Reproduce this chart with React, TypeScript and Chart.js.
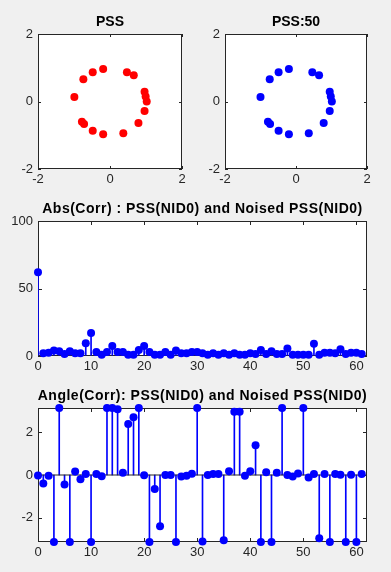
import React, { useEffect, useRef } from 'react';
import { Chart, registerables } from 'chart.js';

Chart.register(...registerables);

// ---------------- data ----------------
const pssRe = [-0.19, -0.48, -0.74, -0.99, -0.78, -0.72, -0.48, -0.19, 0.37, 0.79, 0.96, 1.02, 0.99, 0.96, 0.66, 0.47];
const pssIm = [0.96, 0.87, 0.66, 0.13, -0.6, -0.67, -0.87, -0.97, -0.94, -0.64, -0.28, 0.0, 0.15, 0.29, 0.78, 0.87];
const pss50Re = [-0.2, -0.49, -0.74, -1.0, -0.79, -0.73, -0.49, -0.2, 0.36, 0.78, 0.95, 1.01, 0.98, 0.95, 0.65, 0.46];
const pss50Im = [0.96, 0.87, 0.66, 0.13, -0.6, -0.67, -0.87, -0.97, -0.94, -0.64, -0.28, 0.0, 0.15, 0.29, 0.78, 0.87];

const lags = Array.from({ length: 62 }, (_, i) => i);
const absCorr = [
  62, 2, 2.5, 4, 3.5, 1.5, 3.5, 2, 2, 9.5,
  17, 3, 1, 3, 7.5, 3, 3, 1, 1, 4.5,
  7.5, 3, 1, 1, 3, 1, 4, 2, 2, 3,
  3, 2, 1, 2, 1, 2, 1, 2, 1, 1,
  2, 1.5, 4.5, 1.5, 3.5, 1.5, 1.5, 5.5, 1, 1,
  1, 1, 9, 1, 2.5, 2.5, 2, 5, 1.5, 2.5,
  2.5, 1.5,
];
const angleCorr = [
  -0.02, -0.4, -0.03, -3.14, 3.14, -0.44, -3.14, 0.16, -0.2, 0.05,
  -3.14, 0.05, -0.06, 3.14, 3.14, 3.08, 0.1, 2.39, 2.71, 3.14,
  -0.01, -3.14, -0.66, -2.4, 0.0, 0.0, -3.14, -0.07, -0.03, 0.06,
  3.14, -3.12, 0.0, 0.05, 0.05, -3.06, 0.18, 2.97, 2.97, -0.03,
  0.18, 1.4, -3.14, 0.13, -3.14, 0.11, 3.14, 0.0, -0.07, 0.07,
  3.14, -0.12, 0.05, -2.97, 0.05, -3.14, 0.05, 0.01, -3.14, 0.01,
  -3.14, 0.05,
];

const scatterTicks = [-2, 0, 2];
const lagTicks = [0, 10, 20, 30, 40, 50, 60];
const absTicks = [0, 50, 100];
const angleTicks = [-2, 0, 2];

const titles = [
  'PSS',
  'PSS:50',
  'Abs(Corr) : PSS(NID0) and Noised PSS(NID0)',
  'Angle(Corr): PSS(NID0) and Noised PSS(NID0)',
];

// ---------------- styling ----------------
const W = 391;
const H = 572;
const FONT = "'Liberation Sans', Arial, Helvetica, sans-serif";
const AXIS = '#262626';
const RED = '#ff0000';
const BLUE = '#0000ff';
const YW = 30;
const XH = 20;

const matlabAxes = {
  id: 'matlabAxes',
  beforeDraw(chart: any) {
    const { ctx, chartArea: a } = chart;
    ctx.save();
    ctx.fillStyle = '#ffffff';
    ctx.fillRect(a.left, a.top, a.right - a.left, a.bottom - a.top);
    ctx.restore();
  },
  beforeDatasetsDraw(chart: any, _args: any, opts: any) {
    const { ctx, chartArea: a, scales } = chart;
    const tl = opts.tickLen || 3;
    ctx.save();
    ctx.strokeStyle = AXIS;
    ctx.lineWidth = 1;
    ctx.strokeRect(a.left + 0.5, a.top + 0.5, a.right - a.left - 1, a.bottom - a.top - 1);
    ctx.beginPath();
    scales.x.ticks.forEach((t: any) => {
      const px = Math.round(scales.x.getPixelForValue(t.value)) + 0.5;
      ctx.moveTo(px, a.bottom);
      ctx.lineTo(px, a.bottom - tl);
      ctx.moveTo(px, a.top);
      ctx.lineTo(px, a.top + tl);
    });
    scales.y.ticks.forEach((t: any) => {
      const py = Math.round(scales.y.getPixelForValue(t.value)) + 0.5;
      ctx.moveTo(a.left, py);
      ctx.lineTo(a.left + tl, py);
      ctx.moveTo(a.right, py);
      ctx.lineTo(a.right - tl, py);
    });
    ctx.stroke();
    ctx.restore();
  },
  afterDraw(chart: any, _args: any, opts: any) {
    const { ctx, chartArea: a } = chart;
    ctx.save();
    ctx.fillStyle = '#000000';
    ctx.font = `bold 14px ${FONT}`;
    ctx.textAlign = 'center';
    ctx.textBaseline = 'alphabetic';
    try {
      (ctx as any).letterSpacing = (opts.spacing || 0) + 'px';
    } catch (e) {}
    ctx.fillText(opts.title, (a.left + a.right) / 2, a.top - 8.5);
    ctx.restore();
  },
};

const tickFont = { family: FONT, size: 13 };

function axis(kind: 'x' | 'y', min: number, max: number, ticks: number[]) {
  return {
    type: 'linear',
    min,
    max,
    offset: false,
    grid: { display: false, drawTicks: false, offset: false },
    border: { display: false },
    afterBuildTicks: (s: any) => {
      s.ticks = ticks.map((v) => ({ value: v }));
    },
    afterFit: (s: any) => {
      if (kind === 'x') s.height = XH;
      else s.width = YW;
    },
    ticks: {
      font: tickFont,
      color: AXIS,
      padding: kind === 'x' ? 3 : 5,
      maxRotation: 0,
      minRotation: 0,
      autoSkip: false,
      callback: (v: any) => String(v),
    },
  };
}

function padFor(L: number, T: number, R: number, B: number) {
  return { left: L - YW, top: T, right: W - R, bottom: H - B - XH };
}

function baseOptions(pad: any, title: string, tickLen: number, spacing: number, xs: any, ys: any) {
  return {
    responsive: false,
    animation: false,
    events: [],
    layout: { padding: pad },
    plugins: {
      legend: { display: false },
      tooltip: { enabled: false },
      title: { display: false },
      matlabAxes: { title, tickLen, spacing },
    },
    scales: { x: xs, y: ys },
  };
}

function scatterConfig(re: number[], im: number[], color: string, title: string, pad: any) {
  return {
    type: 'scatter',
    data: {
      datasets: [
        {
          data: re.map((x, i) => ({ x, y: im[i] })),
          backgroundColor: color,
          borderWidth: 0,
          pointRadius: 4,
          pointHoverRadius: 4,
          clip: false,
        },
      ],
    },
    options: baseOptions(pad, title, 3, 0, axis('x', -2, 2, scatterTicks), axis('y', -2, 2, scatterTicks)),
    plugins: [matlabAxes],
  };
}

function stemConfig(values: number[], title: string, pad: any, ymin: number, ymax: number, yTicks: number[]) {
  const pts = lags.map((x, i) => ({ x, y: values[i] }));
  return {
    type: 'scatter',
    data: {
      datasets: [
        {
          type: 'scatter',
          data: pts,
          backgroundColor: BLUE,
          borderWidth: 0,
          pointRadius: 4,
          pointHoverRadius: 4,
          clip: false,
          order: 0,
        },
        {
          type: 'line',
          data: [
            { x: 0, y: 0 },
            { x: 62, y: 0 },
          ],
          borderColor: AXIS,
          borderWidth: 1,
          pointRadius: 0,
          fill: false,
          order: 1,
        },
        {
          type: 'bar',
          data: pts,
          backgroundColor: BLUE,
          borderWidth: 0,
          barThickness: 1,
          order: 2,
        },
      ],
    },
    options: baseOptions(pad, title, 4, 0.5, axis('x', 0, 62, lagTicks), axis('y', ymin, ymax, yTicks)),
    plugins: [matlabAxes],
  };
}

function ChartCanvas({ config }: { config: () => any }) {
  const ref = useRef<HTMLCanvasElement | null>(null);
  useEffect(() => {
    if (!ref.current) return;
    const chart = new Chart(ref.current, config());
    return () => chart.destroy();
  }, []);
  return (
    <canvas
      ref={ref}
      width={W}
      height={H}
      style={{ position: 'absolute', left: 0, top: 0, width: W, height: H }}
    />
  );
}

export default function App() {
  return (
    <div
      style={{
        position: 'fixed',
        left: 0,
        top: 0,
        width: W,
        height: H,
        background: '#f0f0f0',
        overflow: 'hidden',
      }}
    >
      <ChartCanvas config={() => scatterConfig(pssRe, pssIm, RED, titles[0], padFor(38, 34, 182, 169))} />
      <ChartCanvas config={() => scatterConfig(pss50Re, pss50Im, BLUE, titles[1], padFor(225, 34, 367, 169))} />
      <ChartCanvas config={() => stemConfig(absCorr, titles[2], padFor(38, 221, 367, 356), 0, 100, absTicks)} />
      <ChartCanvas
        config={() => stemConfig(angleCorr, titles[3], padFor(38, 408, 367, 542), -Math.PI, Math.PI, angleTicks)}
      />
    </div>
  );
}
